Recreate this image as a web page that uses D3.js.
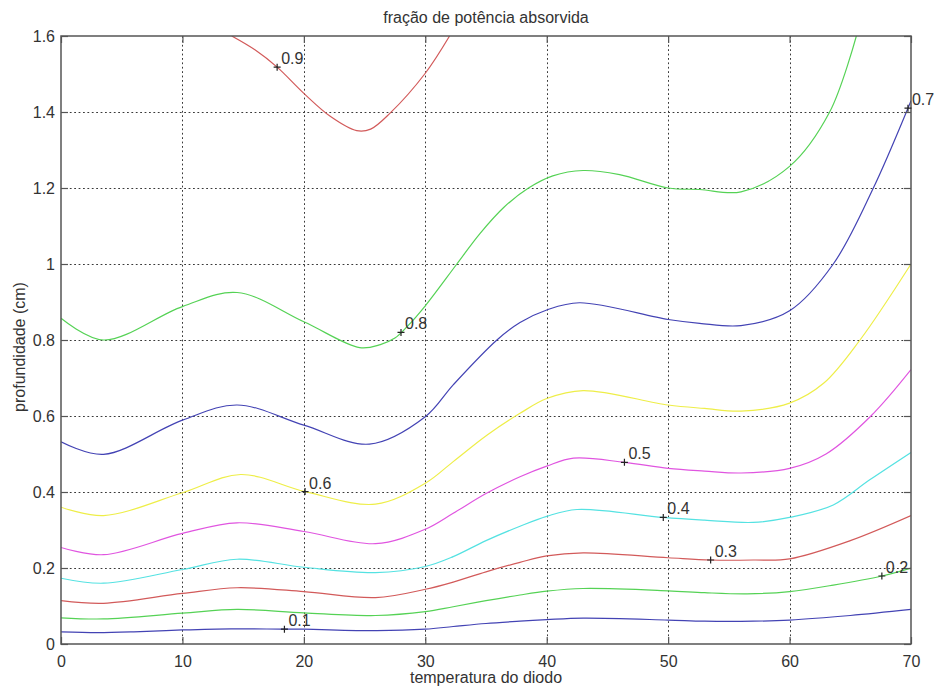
<!DOCTYPE html>
<html>
<head>
<meta charset="utf-8">
<script src="https://cdn.jsdelivr.net/npm/d3@7/dist/d3.min.js"></script>
<style>
  html, body { margin: 0; padding: 0; background: #fff; }
  svg { display: block; }
  text { font-family: "Liberation Sans", Arial, sans-serif; fill: #333; }
</style>
</head>
<body>
<svg id="chart" width="938" height="689"></svg>
<script>
// Contour levels of absorbed power fraction and their line colours
const levels = [0.1, 0.2, 0.3, 0.4, 0.5, 0.6, 0.7, 0.8, 0.9];
const levelColors = ["#4343b4", "#55d255", "#d25a5a", "#55e2e2", "#e055e0", "#eeee48", "#4343b4", "#55d255", "#d25a5a"];

// Contour paths: [temperature, depth (cm)]
const c01 = [[0,0.032],[3,0.03],[6,0.032],[10,0.037],[14,0.04],[18.4,0.039],[20,0.039],[26,0.035],[30,0.039],[32.3,0.046],[35,0.054],[37.8,0.06],[40,0.064],[43,0.068],[50,0.063],[53,0.06],[57,0.06],[60,0.063],[65,0.075],[70,0.091]];
const c02 = [[0,0.069],[3.5,0.066],[10,0.081],[14.5,0.091],[20,0.082],[25.9,0.075],[30,0.085],[32.3,0.098],[35,0.114],[37.8,0.129],[40,0.139],[43,0.146],[50,0.14],[53,0.135],[56.5,0.132],[60,0.138],[63.6,0.155],[67.6,0.179],[70,0.2]];
const c03 = [[0,0.114],[3.5,0.107],[10,0.133],[14.5,0.148],[20,0.138],[25.9,0.122],[30,0.144],[32.3,0.163],[35,0.19],[37.8,0.215],[40,0.232],[43,0.24],[50,0.227],[53.5,0.221],[57,0.221],[60,0.224],[65,0.272],[70,0.338]];
const c04 = [[0,0.173],[3.5,0.16],[10,0.196],[14.5,0.223],[20,0.202],[25.9,0.188],[30,0.204],[32.3,0.23],[35,0.272],[37.8,0.31],[40,0.336],[42.5,0.354],[49.6,0.333],[53,0.326],[57,0.32],[60,0.333],[63.6,0.366],[66.6,0.432],[70,0.504]];
const c05 = [[0,0.254],[3.5,0.235],[10,0.291],[14.5,0.319],[20,0.296],[25.9,0.264],[30,0.302],[32.3,0.344],[35,0.396],[37.8,0.44],[40,0.468],[42.2,0.489],[46.4,0.478],[50,0.462],[53,0.455],[56,0.45],[60,0.462],[63,0.5],[66.7,0.6],[70,0.722]];
const c06 = [[0,0.36],[3.5,0.338],[10,0.398],[14.8,0.446],[20.1,0.401],[25.9,0.368],[30,0.423],[32.3,0.48],[35.1,0.55],[37.8,0.607],[40,0.646],[43,0.667],[50,0.629],[53,0.62],[56,0.613],[60,0.634],[62.8,0.686],[65.8,0.8],[70,1.0]];
const c07 = [[0,0.532],[3.5,0.499],[10,0.589],[14.5,0.629],[20,0.576],[25.4,0.526],[30,0.598],[32.3,0.682],[35.9,0.8],[37.8,0.846],[40,0.879],[42.7,0.898],[50,0.854],[52.6,0.844],[56,0.838],[60,0.877],[63.6,1.0],[66.9,1.2],[69.75,1.41],[70,1.43]];
const c08 = [[0,0.857],[3.5,0.8],[10,0.888],[14.5,0.925],[20,0.848],[24.6,0.78],[26.3,0.788],[27.5,0.805],[28.5,0.835],[30,0.89],[32.6,1.0],[34.5,1.08],[36.5,1.15],[38.5,1.2],[40.5,1.232],[43,1.246],[46,1.235],[50,1.2],[52.6,1.196],[56,1.19],[60,1.257],[63.3,1.4],[65.5,1.6]];
const c09 = [[14.06,1.6],[16,1.563],[17.8,1.518],[20,1.449],[22.2,1.388],[24.35,1.351],[25.5,1.355],[27.1,1.397],[30,1.502],[32,1.6]];
const contourPaths = [c01, c02, c03, c04, c05, c06, c07, c08, c09];

// Where each level is labelled on its line
const labelX = [18.4, 67.6, 53.5, 49.6, 46.4, 20.1, 69.75, 28, 17.8];
const labelY = [0.039, 0.179, 0.221, 0.333, 0.478, 0.401, 1.41, 0.82, 1.518];

const xTicks = [0, 10, 20, 30, 40, 50, 60, 70];
const yTicks = [0, 0.2, 0.4, 0.6, 0.8, 1, 1.2, 1.4, 1.6];

const titleText = "fração de potência absorvida";
const xLabelText = "temperatura do diodo";
const yLabelText = "profundidade (cm)";

const plot = { left: 61, top: 36, right: 911, bottom: 644 };
const svg = d3.select("#chart");

const x = d3.scaleLinear().domain([0, 70]).range([plot.left, plot.right]);
const y = d3.scaleLinear().domain([0, 1.6]).range([plot.bottom, plot.top]);

// dotted grid
const grid = svg.append("g").attr("stroke", "#3a3a3a").attr("stroke-width", 1).attr("stroke-dasharray", "1.8,2.6");
grid.selectAll("line.gx").data(xTicks.slice(1, -1)).join("line")
  .attr("x1", d => Math.round(x(d)) + 0.5).attr("x2", d => Math.round(x(d)) + 0.5)
  .attr("y1", plot.top).attr("y2", plot.bottom);
grid.selectAll("line.gy").data(yTicks.slice(1, -1)).join("line")
  .attr("y1", d => Math.round(y(d)) + 0.5).attr("y2", d => Math.round(y(d)) + 0.5)
  .attr("x1", plot.left).attr("x2", plot.right);

// contour lines
svg.append("clipPath").attr("id", "plotClip").append("rect")
  .attr("x", plot.left).attr("y", plot.top)
  .attr("width", plot.right - plot.left).attr("height", plot.bottom - plot.top);

const line = d3.line().x(d => x(d[0])).y(d => y(d[1])).curve(d3.curveCatmullRom.alpha(0.5));
svg.append("g").attr("clip-path", "url(#plotClip)")
  .selectAll("path").data(contourPaths).join("path")
  .attr("d", line)
  .attr("fill", "none")
  .attr("stroke", (d, i) => levelColors[i])
  .attr("stroke-width", 1.2);

// axes (ticks inside on all four sides)
const tickLen = 7;
const xAxisB = d3.axisBottom(x).tickValues(xTicks).tickSizeInner(-tickLen).tickSizeOuter(0).tickPadding(12).tickFormat(d3.format("d"));
const xAxisT = d3.axisTop(x).tickValues(xTicks).tickSizeInner(-tickLen).tickSizeOuter(0).tickFormat("");
const yAxisL = d3.axisLeft(y).tickValues(yTicks).tickSizeInner(-tickLen).tickSizeOuter(0).tickPadding(6).tickFormat(d => d3.format("~g")(d));
const yAxisR = d3.axisRight(y).tickValues(yTicks).tickSizeInner(-tickLen).tickSizeOuter(0).tickFormat("");

function styleAxis(g) {
  g.select(".domain").remove();
  g.selectAll(".tick line").attr("stroke", "#555").attr("stroke-width", 1.2);
  g.selectAll(".tick text").attr("fill", "#333").style("font-size", "16px")
    .style("font-family", "'Liberation Sans', Arial, sans-serif");
}
svg.append("g").attr("transform", `translate(0,${plot.bottom})`).call(xAxisB).call(styleAxis);
svg.append("g").attr("transform", `translate(0,${plot.top})`).call(xAxisT).call(styleAxis);
svg.append("g").attr("transform", `translate(${plot.left},0)`).call(yAxisL).call(styleAxis);
svg.append("g").attr("transform", `translate(${plot.right},0)`).call(yAxisR).call(styleAxis);

// plot box
svg.append("rect")
  .attr("x", plot.left).attr("y", plot.top)
  .attr("width", plot.right - plot.left).attr("height", plot.bottom - plot.top)
  .attr("fill", "none").attr("stroke", "#555").attr("stroke-width", 1.5);

// contour labels: "+" marker plus level text
const lab = svg.append("g");
levels.forEach((lv, i) => {
  const px = x(labelX[i]), py = y(labelY[i]);
  lab.append("path")
    .attr("d", `M${px - 3.5},${py}H${px + 3.5}M${px},${py - 3.5}V${py + 3.5}`)
    .attr("stroke", "#222").attr("stroke-width", 1.2);
  lab.append("text")
    .attr("x", px + 4).attr("y", py - 3)
    .style("font-size", "16px")
    .text(d3.format(".1f")(lv));
});

// titles
svg.append("text").attr("x", (plot.left + plot.right) / 2).attr("y", 23)
  .attr("text-anchor", "middle").style("font-size", "16px").text(titleText);
svg.append("text").attr("x", (plot.left + plot.right) / 2).attr("y", 683)
  .attr("text-anchor", "middle").style("font-size", "16px").text(xLabelText);
svg.append("text").attr("transform", `translate(25,347) rotate(-90)`)
  .attr("text-anchor", "middle").style("font-size", "16px").text(yLabelText);
</script>
</body>
</html>
